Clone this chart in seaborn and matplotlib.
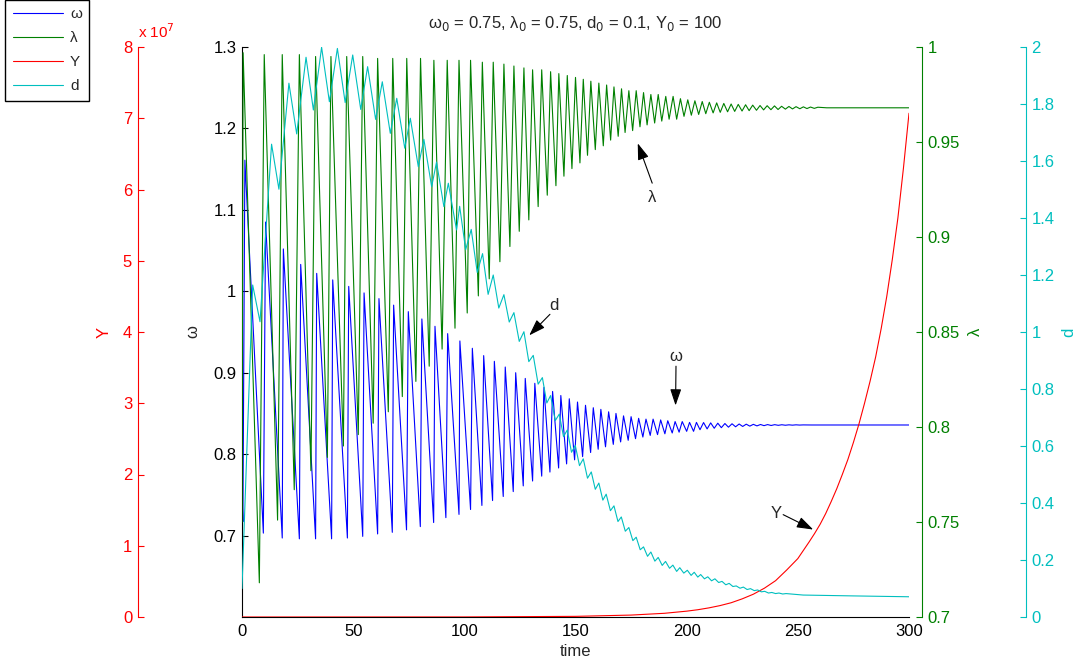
import numpy as np
import seaborn as sns
import matplotlib.pyplot as plt
from matplotlib.ticker import FuncFormatter

# omega: local maxima / minima (time, value)
omega_peak_t = [1.3, 10.6, 18.6, 26.4, 33.6, 40.8, 48.0, 54.9, 61.6, 68.2,
                74.8, 80.9, 86.8, 92.5, 98.0, 103.6, 108.7, 113.5, 118.4, 123.1,
                127.4, 131.7, 135.8, 139.7, 143.4, 147.2, 150.9, 154.5, 158.0, 161.4,
                164.9, 168.2, 171.6, 175.0, 178.4, 181.7, 184.9, 188.3, 191.5, 194.8,
                198.0, 201.3, 204.4, 207.6, 210.8, 214.0, 217.2, 220.4, 223.6, 226.8,
                230.0, 233.2, 236.4, 239.6, 242.8, 246.0, 249.2, 252.4]
omega_peak = [1.161, 1.085, 1.052, 1.033, 1.022, 1.014, 1.006, 0.998, 0.991, 0.983,
              0.975, 0.966, 0.957, 0.948, 0.939, 0.930, 0.921, 0.914, 0.907, 0.900,
              0.893, 0.887, 0.882, 0.877, 0.872, 0.868, 0.864, 0.860, 0.857, 0.855,
              0.852, 0.850, 0.847, 0.846, 0.844, 0.843, 0.843, 0.842, 0.841, 0.840,
              0.840, 0.839, 0.839, 0.8388, 0.8384, 0.8380, 0.8376, 0.8373, 0.8370, 0.8368,
              0.8366, 0.8364, 0.8363, 0.8362, 0.8361, 0.8360, 0.8360, 0.8359]
omega_trough_t = [0.4, 9.6, 18.1, 25.8, 33.1, 40.3, 47.4, 54.3, 61.0, 67.6,
                  74.0, 80.2, 86.2, 91.7, 97.6, 102.8, 107.9, 112.7, 117.5, 122.0,
                  126.5, 130.7, 134.8, 138.5, 142.4, 146.0, 149.6, 153.2, 156.8, 160.2,
                  163.5, 167.0, 170.3, 173.7, 177.0, 180.3, 183.6, 186.9, 190.2, 193.5,
                  196.6, 200.0, 203.1, 206.0, 209.2, 212.4, 215.6, 218.8, 222.0, 225.2,
                  228.4, 231.6, 234.8, 238.0, 241.2, 244.4, 247.6, 250.8]
omega_trough = [0.717, 0.703, 0.697, 0.696, 0.696, 0.696, 0.697, 0.699, 0.702, 0.704,
                0.707, 0.711, 0.716, 0.722, 0.726, 0.732, 0.737, 0.743, 0.748, 0.754,
                0.761, 0.767, 0.773, 0.778, 0.783, 0.788, 0.793, 0.797, 0.802, 0.806,
                0.809, 0.812, 0.815, 0.817, 0.819, 0.821, 0.823, 0.824, 0.825, 0.826,
                0.827, 0.828, 0.828, 0.8300, 0.8310, 0.8318, 0.8325, 0.8331, 0.8336, 0.8340,
                0.8344, 0.8347, 0.8350, 0.8352, 0.8354, 0.8355, 0.8356, 0.8357]
omega_edge_t = [0, 256, 300]
omega_edge = [0.75, 0.8358, 0.8358]

# lambda
lambda_peak_t = [0.5, 10.0, 18.1, 25.8, 33.1, 40.0, 47.1, 54.3, 61.0, 67.8,
                 74.1, 80.3, 86.3, 92.3, 97.6, 102.8, 108.1, 113.0, 117.8, 122.3,
                 126.8, 130.7, 134.8, 138.8, 142.5, 146.3, 150.0, 153.5, 156.9, 160.5,
                 164.0, 167.3, 170.7, 174.0, 177.3, 180.6, 183.9, 187.2, 190.6, 193.9,
                 197.2, 200.5, 203.7, 207.0, 210.2, 213.5, 216.7, 220.0, 223.2, 226.5,
                 229.7, 233.0, 236.2, 239.5, 242.7, 246.0, 249.2, 252.5, 255.7, 259.0]
lambda_peak = [0.997, 0.996, 0.996, 0.996, 0.995, 0.995, 0.995, 0.995, 0.994, 0.994,
               0.994, 0.994, 0.993, 0.993, 0.993, 0.993, 0.992, 0.992, 0.991, 0.990,
               0.989, 0.988, 0.988, 0.987, 0.986, 0.985, 0.984, 0.983, 0.982, 0.981,
               0.980, 0.979, 0.978, 0.977, 0.977, 0.976, 0.975, 0.975, 0.974, 0.974,
               0.9728, 0.9722, 0.9717, 0.9713, 0.9709, 0.9706, 0.9703, 0.9700, 0.9698, 0.9696,
               0.9694, 0.9692, 0.9691, 0.9690, 0.9688, 0.9687, 0.9686, 0.9685, 0.9684, 0.9683]
lambda_trough_t = [7.8, 16.0, 23.5, 31.0, 38.4, 45.6, 52.3, 59.0, 65.8, 72.1,
                   78.2, 84.2, 90.0, 95.8, 101.3, 106.3, 111.2, 116.0, 120.5, 124.7,
                   129.0, 133.2, 137.3, 141.2, 144.8, 148.4, 152.0, 155.4, 158.9, 162.5,
                   165.8, 169.2, 172.3, 175.7, 179.0, 182.2, 185.6, 188.8, 192.1, 195.5,
                   198.8, 202.1, 205.4, 208.6, 211.9, 215.1, 218.4, 221.6, 224.9, 228.1,
                   231.4, 234.6, 237.9, 241.1, 244.4, 247.6, 250.9, 254.1, 257.4]
lambda_trough = [0.718, 0.751, 0.767, 0.777, 0.784, 0.790, 0.796, 0.802, 0.808, 0.816,
                 0.824, 0.832, 0.841, 0.852, 0.860, 0.869, 0.878, 0.887, 0.895, 0.903,
                 0.909, 0.916, 0.922, 0.927, 0.932, 0.936, 0.939, 0.943, 0.946, 0.948,
                 0.951, 0.953, 0.955, 0.956, 0.958, 0.959, 0.960, 0.961, 0.962, 0.962,
                 0.9635, 0.9641, 0.9645, 0.9649, 0.9653, 0.9656, 0.9659, 0.9661, 0.9663, 0.9665,
                 0.9667, 0.9669, 0.9670, 0.9671, 0.9673, 0.9674, 0.9675, 0.9676, 0.9677]
lambda_edge_t = [0, 263, 300]
lambda_edge = [0.75, 0.968, 0.968]

# d
d_peak_t = [4.8, 13.3, 21.1, 28.8, 35.8, 42.9, 49.8, 56.5, 63.1, 69.6,
            75.7, 81.8, 87.5, 92.8, 97.9, 103.1, 108.2, 113.0, 117.8, 122.3,
            126.8, 131.0, 135.1, 138.8, 142.7, 146.3, 149.9, 153.5, 157.1, 160.5,
            163.8, 167.3, 170.6, 174.0, 177.3, 180.6, 183.9, 187.2, 190.5, 193.8,
            196.9, 200.3, 203.4, 206.3, 209.5, 212.7, 215.9, 219.1, 222.3, 225.5,
            228.7, 231.9, 235.1, 238.3, 241.5, 244.7]
d_peak = [1.165, 1.659, 1.873, 1.964, 1.999, 1.995, 1.972, 1.931, 1.878, 1.820,
          1.750, 1.676, 1.596, 1.522, 1.441, 1.360, 1.275, 1.200, 1.131, 1.068,
          1.001, 0.918, 0.840, 0.777, 0.712, 0.656, 0.602, 0.555, 0.509, 0.470,
          0.431, 0.390, 0.351, 0.314, 0.280, 0.246, 0.228, 0.209, 0.195, 0.182,
          0.173, 0.164, 0.157, 0.149, 0.141, 0.134, 0.125, 0.118, 0.109, 0.105,
          0.0995, 0.0949, 0.0901, 0.0861, 0.0841, 0.0822]
d_trough_t = [8.1, 16.6, 24.6, 32.1, 39.3, 46.4, 53.4, 60.1, 66.7, 73.2,
              79.3, 85.3, 90.8, 96.5, 100.6, 105.8, 110.7, 115.5, 120.2, 124.7,
              129.0, 133.2, 137.1, 140.9, 144.6, 148.2, 151.8, 155.4, 158.9, 162.3,
              165.7, 169.1, 172.4, 175.8, 179.1, 182.4, 185.7, 189.0, 192.3, 195.5,
              198.7, 202.0, 205.0, 208.0, 211.2, 214.4, 217.6, 220.8, 224.0, 227.2,
              230.4, 233.6, 236.8, 240.0, 243.2]
d_trough = [1.036, 1.501, 1.695, 1.779, 1.808, 1.805, 1.781, 1.746, 1.697, 1.645,
            1.580, 1.510, 1.440, 1.358, 1.289, 1.209, 1.132, 1.084, 1.035, 0.967,
            0.896, 0.817, 0.751, 0.689, 0.633, 0.578, 0.531, 0.487, 0.448, 0.410,
            0.373, 0.335, 0.301, 0.268, 0.236, 0.213, 0.196, 0.181, 0.171, 0.160,
            0.154, 0.146, 0.140, 0.134, 0.127, 0.121, 0.113, 0.107, 0.101, 0.0964,
            0.0925, 0.0883, 0.0841, 0.0822, 0.0807]
d_edge_t = [0, 252.4, 275, 300]
d_edge = [0.1, 0.077, 0.074, 0.071]

# Y
Y_t = [0, 100, 150, 175, 190, 200, 205, 210, 215, 220, 225, 230, 235, 240, 245,
       250, 255, 257.5, 260, 262.5, 265, 267.5, 270, 272.5, 275, 277.5, 280,
       282.5, 285, 287.5, 290, 292.5, 295, 297.5, 300]
Y_v = [1e2, 9e3, 9e4, 2.7e5, 5.2e5, 8.2e5, 1.02e6, 1.28e6, 1.6e6, 2.0e6, 2.55e6,
       3.2e6, 4.05e6, 5.1e6, 6.6e6, 8.2e6, 1.05e7, 1.17e7, 1.3e7, 1.45e7, 1.62e7,
       1.8e7, 2.0e7, 2.21e7, 2.45e7, 2.71e7, 3.0e7, 3.31e7, 3.65e7, 4.05e7, 4.5e7,
       5.02e7, 5.6e7, 6.3e7, 7.07e7]

BLUE, GREEN, RED, CYAN = "#0000ff", "#008000", "#ff0000", "#00bfbf"
FS = 12


def series(pt, pv, tt, tv, et, ev):
    t = np.concatenate([pt, tt, et])
    v = np.concatenate([pv, tv, ev])
    order = np.argsort(t, kind="stable")
    return t[order], v[order]


w_t, w_v = series(omega_peak_t, omega_peak, omega_trough_t, omega_trough, omega_edge_t, omega_edge)
l_t, l_v = series(lambda_peak_t, lambda_peak, lambda_trough_t, lambda_trough, lambda_edge_t, lambda_edge)
d_t, d_v = series(d_peak_t, d_peak, d_trough_t, d_trough, d_edge_t, d_edge)

sns.set_style("white")
plt.rcParams["font.family"] = ["Liberation Sans", "DejaVu Sans"]

fig = plt.figure(figsize=(10.78, 6.66), dpi=100)
ax = fig.add_axes([242 / 1078, 49 / 666, 667 / 1078, 570 / 666])
ax_l = ax.twinx()
ax_y = ax.twinx()
ax_d = ax.twinx()

sns.lineplot(x=w_t, y=w_v, ax=ax, color=BLUE, lw=0.8, estimator=None, sort=False)
sns.lineplot(x=l_t, y=l_v, ax=ax_l, color=GREEN, lw=0.8, estimator=None, sort=False)
sns.lineplot(x=Y_t, y=Y_v, ax=ax_y, color=RED, lw=0.8, estimator=None, sort=False)
sns.lineplot(x=d_t, y=d_v, ax=ax_d, color=CYAN, lw=0.8, estimator=None, sort=False)

fmt = FuncFormatter(lambda v, p: "%g" % round(v, 4))

ax.set_xlim(0, 300)
ax.set_ylim(0.6, 1.3)
ax.set_xticks([0, 50, 100, 150, 200, 250, 300])
ax.set_yticks([0.7, 0.8, 0.9, 1.0, 1.1, 1.2, 1.3])
ax.yaxis.set_major_formatter(fmt)
ax.spines["top"].set_visible(False)
ax.spines["right"].set_visible(False)
for s in ("left", "bottom"):
    ax.spines[s].set_color("black")
    ax.spines[s].set_linewidth(0.8)
ax.tick_params(axis="both", direction="in", length=4, width=0.8, labelsize=FS,
               colors="black", top=False, right=False)
ax.tick_params(axis="x", pad=5)
ax.tick_params(axis="y", pad=4)
ax.set_xlabel("time", fontsize=FS, labelpad=4)
ax.set_ylabel("ω", fontsize=FS)
ax.yaxis.set_label_coords(-0.063, 0.5)
ax.set_title(r"ω$_0$ = 0.75, λ$_0$ = 0.75, d$_0$ = 0.1, Y$_0$ = 100", fontsize=FS, pad=14)

for a in (ax_l, ax_y, ax_d):
    for s in a.spines.values():
        s.set_visible(False)
    a.grid(False)

ax_l.set_ylim(0.7, 1.0)
ax_l.set_yticks([0.7, 0.75, 0.8, 0.85, 0.9, 0.95, 1.0])
ax_l.yaxis.set_major_formatter(fmt)
ax_l.spines["right"].set_visible(True)
ax_l.spines["right"].set_position(("outward", 9.4))
ax_l.spines["right"].set_color(GREEN)
ax_l.tick_params(axis="y", direction="in", length=4, width=0.8, labelsize=FS, colors=GREEN, pad=4)
ax_l.set_ylabel("λ", color=GREEN, fontsize=FS)
ax_l.yaxis.set_label_coords(1.0885, 0.5)

ax_d.set_ylim(0, 2)
ax_d.set_yticks([0, 0.2, 0.4, 0.6, 0.8, 1.0, 1.2, 1.4, 1.6, 1.8, 2.0])
ax_d.yaxis.set_major_formatter(fmt)
ax_d.spines["right"].set_visible(True)
ax_d.spines["right"].set_position(("outward", 84.2))
ax_d.spines["right"].set_color(CYAN)
ax_d.tick_params(axis="y", direction="in", length=4, width=0.8, labelsize=FS, colors=CYAN, pad=4)
ax_d.set_ylabel("d", color=CYAN, fontsize=FS)
ax_d.yaxis.set_label_coords(1.228, 0.5)

ax_y.set_ylim(0, 8e7)
ax_y.set_yticks([0, 1e7, 2e7, 3e7, 4e7, 5e7, 6e7, 7e7, 8e7])
ax_y.yaxis.set_major_formatter(FuncFormatter(lambda v, p: "%g" % (v / 1e7)))
ax_y.yaxis.tick_left()
ax_y.yaxis.set_label_position("left")
ax_y.spines["left"].set_visible(True)
ax_y.spines["left"].set_position(("outward", 75.1))
ax_y.spines["left"].set_color(RED)
ax_y.tick_params(axis="y", direction="in", length=4, width=0.8, labelsize=FS, colors=RED, pad=4)
ax_y.set_ylabel("Y", color=RED, fontsize=FS)
ax_y.yaxis.set_label_coords(-0.195, 0.5)
fig.text(138 / 1078, 1 - 38 / 666, r"x 10$^{7}$", color=RED, fontsize=11, ha="left", va="baseline")

# arrows with labels, in (time, omega) coordinates
arrow = dict(arrowstyle="-|>,head_length=0.5,head_width=0.17", mutation_scale=20,
             lw=0.8, color="black", shrinkA=0, shrinkB=0)
notes = [("λ", (178.0, 1.1817), (184.5, 1.1328), (184.5, 1.115)),
         ("d", (129.2, 0.9459), (138.5, 0.9717), (140.4, 0.9828)),
         ("ω", (195.0, 0.8598), (195.2, 0.908), (195.3, 0.9204)),
         ("Y", (256.9, 0.7074), (243.4, 0.7257), (240.4, 0.7266))]
for txt, head, tail, pos in notes:
    ax_d.annotate("", xy=head, xycoords=ax.transData, xytext=tail,
                  textcoords=ax.transData, arrowprops=arrow)
    ax_d.text(pos[0], pos[1], txt, transform=ax.transData, ha="center", va="center", fontsize=FS)

handles = [ax.get_lines()[0], ax_l.get_lines()[0], ax_y.get_lines()[0], ax_d.get_lines()[0]]
leg = fig.legend(handles, ["ω", "λ", "Y", "d"], loc="upper left",
                 bbox_to_anchor=(5 / 1078, 1 + 0.5 / 666), bbox_transform=fig.transFigure,
                 frameon=True, fancybox=False, edgecolor="black", framealpha=1,
                 fontsize=11, handlelength=3.3, handletextpad=0.45,
                 labelspacing=0.65, borderpad=0.5, borderaxespad=0)
leg.get_frame().set_linewidth(1.0)

fig.savefig("out.png", dpi=100)
